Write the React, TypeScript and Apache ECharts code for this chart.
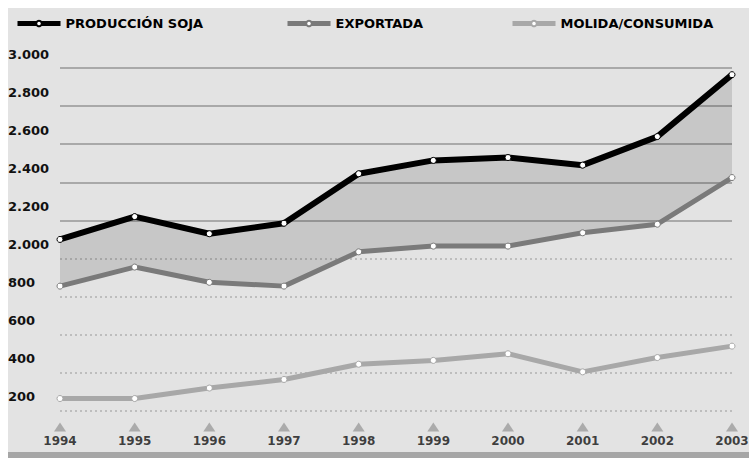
import React, { useEffect, useRef } from 'react';
import * as echarts from 'echarts';

// Data
const years = ['1994', '1995', '1996', '1997', '1998', '1999', '2000', '2001', '2002', '2003'];
const produccion = [2100, 2220, 2130, 2185, 2445, 2515, 2530, 2490, 2640, 2965];
const exportada = [1855, 1955, 1875, 1855, 2035, 2065, 2065, 2135, 2180, 2425];
const molida = [265, 265, 320, 365, 445, 465, 500, 405, 480, 540];
const seriesNames = ['PRODUCCIÓN SOJA', 'EXPORTADA', 'MOLIDA/CONSUMIDA'];
// Broken axis: upper scale labels and lower scale labels
const upperTickLabels = [2000, 2200, 2400, 2600, 2800, 3000];
const lowerTickLabels = [200, 400, 600, 800];

const fmt = (v: number) =>
  v >= 1000 ? `${Math.floor(v / 1000)}.${String(v % 1000).padStart(3, '0')}` : String(v);

export default function App() {
  const ref = useRef<HTMLDivElement>(null);
  useEffect(() => {
    document.body.style.margin = '8px 0 0 8px';
    document.body.style.overflow = 'hidden';
    const chart = echarts.init(ref.current!, null, { renderer: 'svg' });
    const band = produccion.map((v, i) => v - exportada[i]);
    const T = 'rgba(0,0,0,0)';
    const upperColors = [T, T, T, T, T, T, '#a9a9a9', '#a9a9a9', '#a9a9a9', '#a9a9a9', '#a9a9a9'];
    const lowerColors = [T, '#bdbdbd', '#bdbdbd', '#bdbdbd', '#bdbdbd', '#bdbdbd', T, T, T, T, T];
    const labelBase = {
      fontFamily: 'DejaVu Sans',
      fontWeight: 'bold' as const,
      fontSize: 13,
      color: '#111',
      align: 'left' as const,
      verticalAlign: 'bottom' as const,
      margin: 52,
      lineHeight: 14,
      padding: [0, 0, 7, 0],
    };
    const legendCommon = {
      top: 4,
      itemWidth: 43,
      itemHeight: 7,
      itemGap: 0,
      lineStyle: { width: 5 },
      textStyle: { fontFamily: 'DejaVu Sans', fontWeight: 'bold' as const, fontSize: 13, color: '#000' },
    };
    const option: any = {
      animation: false,
      backgroundColor: '#e3e3e3',
      legend: [
        { ...legendCommon, left: 2, data: [seriesNames[0]] },
        { ...legendCommon, left: 272, data: [seriesNames[1]] },
        { ...legendCommon, left: 497, data: [seriesNames[2]] },
      ],
      grid: { left: 52, right: 17, top: 60, bottom: 9, containLabel: false, outerBoundsMode: 'none' },
      xAxis: {
        type: 'category',
        data: years,
        boundaryGap: false,
        axisLine: { show: false },
        axisTick: { show: false },
        axisLabel: { show: false },
      },
      yAxis: [
        {
          type: 'value',
          min: 1000,
          max: 3000,
          interval: 200,
          position: 'left',
          axisLine: { show: false },
          axisTick: { show: false },
          axisLabel: {
            ...labelBase,
            formatter: (v: number) => (upperTickLabels.includes(v) ? fmt(v) : ''),
          },
          splitLine: { show: true, lineStyle: { color: upperColors, width: 2, type: 'solid' } },
        },
        {
          type: 'value',
          min: 0,
          max: 2000,
          interval: 200,
          position: 'left',
          axisLine: { show: false },
          axisTick: { show: false },
          axisLabel: {
            ...labelBase,
            formatter: (v: number) => (lowerTickLabels.includes(v) ? fmt(v) : ''),
          },
          splitLine: { show: true, lineStyle: { color: lowerColors, width: 2, type: [2, 3] } },
        },
      ],
      graphic: [
        { type: 'rect', left: 0, bottom: 0, shape: { width: 2000, height: 6 }, style: { fill: '#a6a6a6' }, silent: true },
      ],
      series: [
        {
          name: 'base',
          type: 'line',
          stack: 'band',
          data: exportada,
          yAxisIndex: 0,
          symbol: 'none',
          lineStyle: { width: 0, opacity: 0 },
          z: 1,
        },
        {
          name: 'band',
          type: 'line',
          stack: 'band',
          data: band,
          yAxisIndex: 0,
          symbol: 'none',
          lineStyle: { width: 0, opacity: 0 },
          areaStyle: { color: 'rgba(0,0,0,0.12)', opacity: 1 },
          z: 1,
        },
        {
          // year markers (triangle + year label) sitting on the base of the chart
          name: 'years',
          type: 'scatter',
          yAxisIndex: 1,
          data: years.map((y) => [y, 0]),
          symbol: 'triangle',
          symbolSize: [12, 9],
          symbolOffset: [0, -22],
          itemStyle: { color: '#9c9c9c' },
          clip: false,
          silent: true,
          label: {
            show: true,
            position: 'bottom',
            distance: 2,
            formatter: (p: any) => p.name || p.value[0],
            fontFamily: 'DejaVu Sans',
            fontWeight: 'bold',
            fontSize: 12,
            lineHeight: 14,
            color: '#111',
          },
          z: 2,
        },
        {
          name: seriesNames[2],
          type: 'line',
          data: molida,
          yAxisIndex: 1,
          color: '#a8a8a8',
          lineStyle: { color: '#a8a8a8', width: 5 },
          symbol: 'circle',
          symbolSize: 6,
          showAllSymbol: true,
          itemStyle: { color: '#ffffff', borderColor: '#a8a8a8', borderWidth: 1 },
          z: 3,
        },
        {
          name: seriesNames[1],
          type: 'line',
          data: exportada,
          yAxisIndex: 0,
          color: '#7a7a7a',
          lineStyle: { color: '#7a7a7a', width: 5 },
          symbol: 'circle',
          symbolSize: 6,
          showAllSymbol: true,
          itemStyle: { color: '#ffffff', borderColor: '#7a7a7a', borderWidth: 1 },
          z: 4,
        },
        {
          name: seriesNames[0],
          type: 'line',
          data: produccion,
          yAxisIndex: 0,
          color: '#000000',
          lineStyle: { color: '#000000', width: 6 },
          symbol: 'circle',
          symbolSize: 6,
          showAllSymbol: true,
          itemStyle: { color: '#ffffff', borderColor: '#000000', borderWidth: 1 },
          z: 5,
        },
      ],
    };
    chart.setOption(option);
    return () => chart.dispose();
  }, []);
  return <div ref={ref} style={{ width: 'calc(100vw - 8px)', height: 'calc(100vh - 8px)' }} />;
}
